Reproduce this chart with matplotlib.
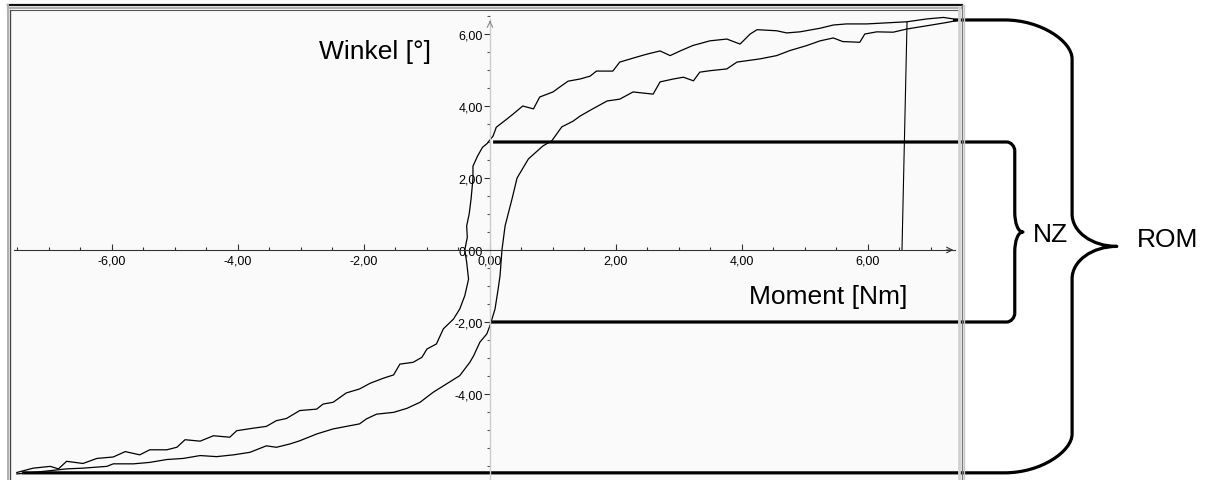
import matplotlib
matplotlib.use("Agg")
import matplotlib.pyplot as plt
from matplotlib.path import Path
from matplotlib.patches import PathPatch
from matplotlib.lines import Line2D
from matplotlib.ticker import MultipleLocator, FuncFormatter

plt.rcParams['axes.unicode_minus'] = False

# --- data (Moment [Nm], Winkel [deg]) ---
# branch A: upper / left branch of the hysteresis loop
moment_a = [-7.51, -7.25, -6.98, -6.85, -6.72, -6.46, -6.24, -5.98, -5.79, -5.56,
            -5.40, -5.13, -4.97, -4.84, -4.60, -4.39, -4.13, -4.02, -3.76, -3.55,
            -3.39, -3.23, -3.02, -2.75, -2.65, -2.49, -2.28, -2.07, -1.90, -1.69,
            -1.53, -1.43, -1.22, -1.08, -1.00, -0.85, -0.74, -0.58, -0.48, -0.40,
            -0.34, -0.37, -0.40, -0.36, -0.37, -0.33, -0.30, -0.28, -0.27, -0.27,
            -0.20, -0.12, -0.05, 0.05, 0.10, 0.27, 0.37, 0.52, 0.69, 0.79,
            1.00, 1.11, 1.24, 1.43, 1.59, 1.69, 1.95, 2.06, 2.33, 2.49,
            2.70, 2.86, 3.02, 3.22, 3.49, 3.76, 3.97, 4.13, 4.24, 4.55,
            4.71, 4.92, 5.24, 5.45, 5.66, 5.98, 6.30, 6.62, 6.94, 7.20, 7.35]
winkel_a = [-6.18, -6.06, -6.01, -6.08, -5.87, -5.93, -5.79, -5.75, -5.60, -5.69,
            -5.55, -5.55, -5.48, -5.27, -5.31, -5.16, -5.20, -5.02, -4.95, -4.90,
            -4.74, -4.68, -4.46, -4.42, -4.28, -4.23, -3.97, -3.86, -3.70, -3.56,
            -3.47, -3.17, -3.12, -2.98, -2.75, -2.61, -2.19, -1.92, -1.64, -1.27,
            -0.81, -0.34, 0.00, 0.35, 0.67, 1.00, 1.42, 1.80, 2.00, 2.33,
            2.60, 2.85, 2.95, 3.17, 3.41, 3.64, 3.78, 4.00, 3.92, 4.25,
            4.39, 4.53, 4.69, 4.75, 4.83, 4.97, 4.97, 5.22, 5.36, 5.44,
            5.53, 5.40, 5.53, 5.68, 5.81, 5.86, 5.72, 6.00, 6.12, 6.09,
            6.03, 6.06, 6.16, 6.25, 6.28, 6.28, 6.31, 6.34, 6.42, 6.46, 6.42]

# branch B: lower / right branch
moment_b = [-7.51, -7.25, -6.72, -6.46, -6.08, -5.98, -5.66, -5.40, -5.13, -4.87,
            -4.60, -4.34, -4.07, -3.81, -3.55, -3.39, -3.18, -3.02, -2.75, -2.49,
            -2.22, -2.07, -1.96, -1.80, -1.53, -1.32, -1.11, -0.90, -0.69, -0.48,
            -0.32, -0.26, -0.16, -0.05, 0.00, 0.08, 0.13, 0.16, 0.19, 0.24,
            0.35, 0.43, 0.61, 0.84, 0.98, 1.14, 1.32, 1.43, 1.63, 1.86,
            2.06, 2.27, 2.59, 2.70, 2.91, 3.07, 3.23, 3.33, 3.49, 3.76,
            3.92, 4.29, 4.55, 4.76, 5.03, 5.24, 5.45, 5.60, 5.87, 5.95,
            6.14, 6.40, 6.62, 6.94, 7.25, 7.40]
winkel_b = [-6.22, -6.18, -6.08, -6.06, -6.01, -5.94, -5.94, -5.90, -5.82, -5.79,
            -5.71, -5.74, -5.69, -5.62, -5.44, -5.48, -5.39, -5.30, -5.11, -4.97,
            -4.88, -4.83, -4.69, -4.56, -4.51, -4.40, -4.23, -3.95, -3.72, -3.49,
            -3.12, -2.94, -2.56, -2.33, -2.10, -1.64, -1.08, -0.71, 0.00, 0.67,
            1.42, 2.00, 2.53, 2.89, 3.03, 3.42, 3.58, 3.72, 3.92, 4.14,
            4.19, 4.39, 4.33, 4.67, 4.75, 4.80, 4.70, 4.94, 4.98, 5.03,
            5.22, 5.31, 5.40, 5.54, 5.68, 5.81, 5.89, 5.79, 5.77, 6.00,
            6.06, 6.05, 6.14, 6.23, 6.32, 6.37]

# unloading line
moment_c = [6.54, 6.62]
winkel_c = [0.00, 6.33]

x_ticks = [-6, -4, -2, 0, 2, 4, 6]
y_ticks = [-4, -2, 0, 2, 4, 6]

nz_low, nz_high = -2.0, 3.0
rom_low, rom_high = -6.19, 6.39

# --- figure ---
W_PX, H_PX = 1211, 481
fig = plt.figure(figsize=(W_PX / 100, H_PX / 100), dpi=100, facecolor='white')

def fxy(px, py):
    return px / W_PX, 1 - py / H_PX

ax = fig.add_axes([12 / W_PX, 0, (958 - 12) / W_PX, (481 - 12) / H_PX])
ax.set_facecolor('#fafafa')
ax.set_xlim(-7.587, 7.429)
ax.set_ylim(-6.389, 6.639)

for s in ['top', 'right']:
    ax.spines[s].set_visible(False)
ax.spines['bottom'].set_position(('data', 0))
ax.spines['left'].set_position(('data', 0))
ax.spines['bottom'].set_bounds(-7.55, 7.38)
ax.spines['left'].set_bounds(-6.389, 6.42)
ax.spines['bottom'].set_color('#333333')
ax.spines['bottom'].set_linewidth(0.8)
ax.spines['left'].set_color('#cccccc')
ax.spines['left'].set_linewidth(1.0)

fmt = FuncFormatter(lambda v, p: f"{v:.2f}".replace('.', ','))
ax.set_xticks(x_ticks)
ax.set_yticks(y_ticks)
ax.xaxis.set_major_formatter(fmt)
ax.yaxis.set_major_formatter(fmt)
ax.xaxis.set_minor_locator(MultipleLocator(0.5))
ax.yaxis.set_minor_locator(MultipleLocator(0.5))
ax.tick_params(axis='x', which='major', direction='in', length=4, width=0.8,
               color='#333333', pad=3, labelsize=9)
ax.tick_params(axis='x', which='minor', direction='in', length=2, width=0.8, color='#333333')
ax.tick_params(axis='y', which='major', direction='out', length=4, width=0.8,
               color='#333333', pad=1, labelsize=9)
ax.tick_params(axis='y', which='minor', direction='out', length=2, width=0.8, color='#555555')
for lab in ax.get_xticklabels() + ax.get_yticklabels():
    lab.set_family(['Liberation Sans Narrow', 'Liberation Sans', 'DejaVu Sans'])

# axis arrow heads
ax.annotate('', xy=(7.40, 0), xytext=(7.20, 0),
            arrowprops=dict(arrowstyle='->', lw=0.8, color='#333333'), annotation_clip=False)
ax.annotate('', xy=(0, 6.45), xytext=(0, 6.25),
            arrowprops=dict(arrowstyle='->', lw=0.8, color='#888888'), annotation_clip=False)

# curves
ax.plot(moment_a, winkel_a, color='black', lw=0.9)
ax.plot(moment_b, winkel_b, color='black', lw=0.9)
ax.plot(moment_c, winkel_c, color='black', lw=0.8)

txt = dict(family=['Liberation Sans', 'DejaVu Sans'], fontsize=19, color='black')
ax.text(-1.83, 5.53, 'Winkel [°]', ha='center', va='center', **txt)
ax.text(5.37, -1.28, 'Moment [Nm]', ha='center', va='center', **txt)

# --- ROM brace ---
mid = (rom_low + rom_high) / 2
x0, x1, xv, xt = 7.35, 8.17, 9.24, 9.95
rom_verts = [(x0, rom_high), (x1, rom_high),
             (x1 + 0.58, rom_high), (xv, rom_high - 0.6), (xv, rom_high - 1.08),
             (xv, mid + 0.9),
             (xv, mid + 0.4), (xt - 0.39, mid), (xt, mid),
             (xt - 0.39, mid), (xv, mid - 0.4), (xv, mid - 0.9),
             (xv, rom_low + 1.08),
             (xv, rom_low + 0.6), (x1 + 0.58, rom_low), (x1, rom_low),
             (-7.43, rom_low)]
rom_codes = [Path.MOVETO, Path.LINETO,
             Path.CURVE4, Path.CURVE4, Path.CURVE4,
             Path.LINETO,
             Path.CURVE4, Path.CURVE4, Path.CURVE4,
             Path.CURVE4, Path.CURVE4, Path.CURVE4,
             Path.LINETO,
             Path.CURVE4, Path.CURVE4, Path.CURVE4,
             Path.LINETO]
ax.add_patch(PathPatch(Path(rom_verts, rom_codes), fill=False, lw=2.3,
                       edgecolor='black', clip_on=False, joinstyle='round'))

# --- NZ bracket ---
nmid = (nz_low + nz_high) / 2
n1, nv, nt = 8.20, 8.33, 8.46
nz_verts = [(0.05, nz_high), (n1, nz_high),
            (n1 + 0.07, nz_high), (nv, nz_high - 0.12), (nv, nz_high - 0.25),
            (nv, nmid + 0.55),
            (nv, nmid + 0.25), (nt - 0.08, nmid), (nt, nmid),
            (nt - 0.08, nmid), (nv, nmid - 0.25), (nv, nmid - 0.55),
            (nv, nz_low + 0.25),
            (nv, nz_low + 0.12), (n1 + 0.07, nz_low), (n1, nz_low),
            (0.0, nz_low)]
ax.add_patch(PathPatch(Path(nz_verts, rom_codes), fill=False, lw=2.3,
                       edgecolor='black', clip_on=False, joinstyle='round'))

ax.text(8.89, 0.44, 'NZ', ha='center', va='center', clip_on=False, **txt)
ax.text(10.75, 0.31, 'ROM', ha='center', va='center', clip_on=False, **txt)

# --- panel frame ---
def fline(xs, ys, color, lw):
    pts = [fxy(x, y) for x, y in zip(xs, ys)]
    fig.add_artist(Line2D([p[0] for p in pts], [p[1] for p in pts],
                          transform=fig.transFigure, color=color, lw=lw))

fline([8, 962], [6, 6], '#111111', 1.6)
fline([8, 962], [9, 9], '#b0b0b0', 1.5)
fline([10, 958], [11, 11], '#555555', 0.8)
fline([8, 8], [6, 481], '#b0b0b0', 1.5)
fline([10.5, 10.5], [11, 481], '#444444', 1.0)
fline([959.5, 959.5], [9, 481], '#d0d0d0', 2.0)
fline([962, 962], [6, 481], '#777777', 1.0)
fline([964, 964], [6, 481], '#c8c8c8', 1.0)

fig.savefig('out.png', dpi=100, facecolor='white')
